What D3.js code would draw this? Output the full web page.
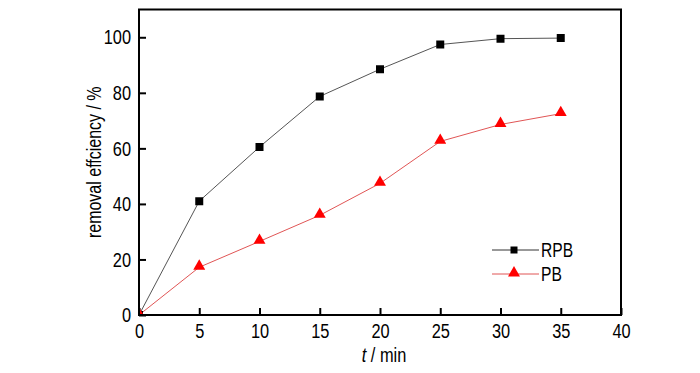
<!DOCTYPE html>
<html>
<head>
<meta charset="utf-8">
<script src="https://cdn.jsdelivr.net/npm/d3@7"></script>
<style>
  body { margin: 0; background: #fff; }
  svg text { font-family: "Liberation Sans", Arial, sans-serif; fill: #000; }
</style>
</head>
<body>
<svg id="chart" width="700" height="373"></svg>
<script>
// Daten
var times = [0, 5, 10, 15, 20, 25, 30, 35];
var rpb = [0, 41, 60.5, 78.7, 88.5, 97.4, 99.5, 99.7];
var pb = [0, 17.2, 26.5, 35.9, 47.4, 62.5, 68.6, 72.5];
var xTicks = [0, 5, 10, 15, 20, 25, 30, 35, 40];
var yTicks = [0, 20, 40, 60, 80, 100];
var seriesNames = ["RPB", "PB"];

// Schrift im Original ist schmal -> horizontal stauchen
var SQ = 0.78;
function narrow(sel){
  sel.each(function(){
    var t = d3.select(this);
    var xv = +(t.attr("x") || 0);
    var ex = t.attr("transform") || "";
    t.attr("x", xv / SQ).attr("transform", ex + " scale(" + SQ + ",1)");
  });
}

var svg = d3.select("#chart");
var box = { left: 139, right: 621, top: 9.5, bottom: 315 };

var x = d3.scaleLinear().domain([0, 40]).range([box.left, box.right]);
var y = d3.scaleLinear().domain([0, 110]).range([box.bottom, box.top]);

svg.append("clipPath").attr("id", "plotclip")
  .append("rect")
  .attr("x", box.left + 1).attr("y", box.top)
  .attr("width", box.right - box.left).attr("height", box.bottom - box.top - 1);

// Achsen (Ticks nach innen)
var xAxis = svg.append("g")
  .attr("transform", "translate(0," + box.bottom + ")")
  .call(d3.axisBottom(x).tickValues(xTicks).tickSizeInner(-7).tickSizeOuter(0).tickPadding(8));
var yAxis = svg.append("g")
  .attr("transform", "translate(" + box.left + ",0)")
  .call(d3.axisLeft(y).tickValues(yTicks).tickSizeInner(-7).tickSizeOuter(0).tickPadding(8));

[xAxis, yAxis].forEach(function(g){
  g.select(".domain").remove();
  g.selectAll(".tick line").attr("stroke", "#000").attr("stroke-width", 2);
  g.selectAll(".tick text").style("font-size", "21px").call(narrow);
});

// Rahmen
svg.append("rect")
  .attr("x", box.left).attr("y", box.top)
  .attr("width", box.right - box.left).attr("height", box.bottom - box.top)
  .attr("fill", "none").attr("stroke", "#000").attr("stroke-width", 2);

var plot = svg.append("g").attr("clip-path", "url(#plotclip)");

var line = d3.line()
  .x(function(d){ return x(d[0]); })
  .y(function(d){ return y(d[1]); });

var rpbData = times.map(function(t, i){ return [t, rpb[i]]; });
var pbData = times.map(function(t, i){ return [t, pb[i]]; });

plot.append("path").datum(rpbData).attr("d", line)
  .attr("fill", "none").attr("stroke", "#555").attr("stroke-width", 1);
plot.append("path").datum(pbData).attr("d", line)
  .attr("fill", "none").attr("stroke", "#e05555").attr("stroke-width", 1);

var square = d3.symbol().type(d3.symbolSquare).size(64);
var triangle = d3.symbol().type(d3.symbolTriangle).size(62);
var squareSmall = d3.symbol().type(d3.symbolSquare).size(49);

plot.selectAll(".m-rpb").data(rpbData).enter().append("path")
  .attr("class", "m-rpb")
  .attr("d", square)
  .attr("transform", function(d){ return "translate(" + x(d[0]) + "," + y(d[1]) + ")"; })
  .attr("fill", "#000");

plot.selectAll(".m-pb").data(pbData).enter().append("path")
  .attr("class", "m-pb")
  .attr("d", triangle)
  .attr("transform", function(d){ return "translate(" + x(d[0]) + "," + (y(d[1]) - 1) + ")"; })
  .attr("fill", "#ff0000");

// Legende
var legend = svg.append("g").attr("transform", "translate(492,250)");
var legendStyles = [
  { stroke: "#333", fill: "#000", sym: squareSmall },
  { stroke: "#e05555", fill: "#ff0000", sym: triangle }
];
seriesNames.forEach(function(name, i){
  var row = legend.append("g").attr("transform", "translate(0," + (i * 24) + ")");
  row.append("line").attr("x1", 0).attr("x2", 47).attr("y1", 0).attr("y2", 0)
    .attr("stroke", legendStyles[i].stroke).attr("stroke-width", 1);
  row.append("path").attr("d", legendStyles[i].sym)
    .attr("transform", "translate(22," + (i === 1 ? -1 : 0) + ")")
    .attr("fill", legendStyles[i].fill);
  row.append("text").attr("x", 49).attr("y", 7)
    .style("font-size", "20px").text(name).call(narrow);
});

// Achsentitel
svg.append("text")
  .attr("transform", "translate(384,362)")
  .attr("text-anchor", "middle")
  .style("font-size", "21px")
  .html('<tspan font-style="italic">t</tspan> / min')
  .call(narrow);

svg.append("text")
  .attr("transform", "translate(101," + ((box.top + box.bottom) / 2) + ") rotate(-90)")
  .attr("text-anchor", "middle")
  .style("font-size", "20.5px")
  .text("removal effciency / %")
  .call(narrow);
</script>
</body>
</html>
